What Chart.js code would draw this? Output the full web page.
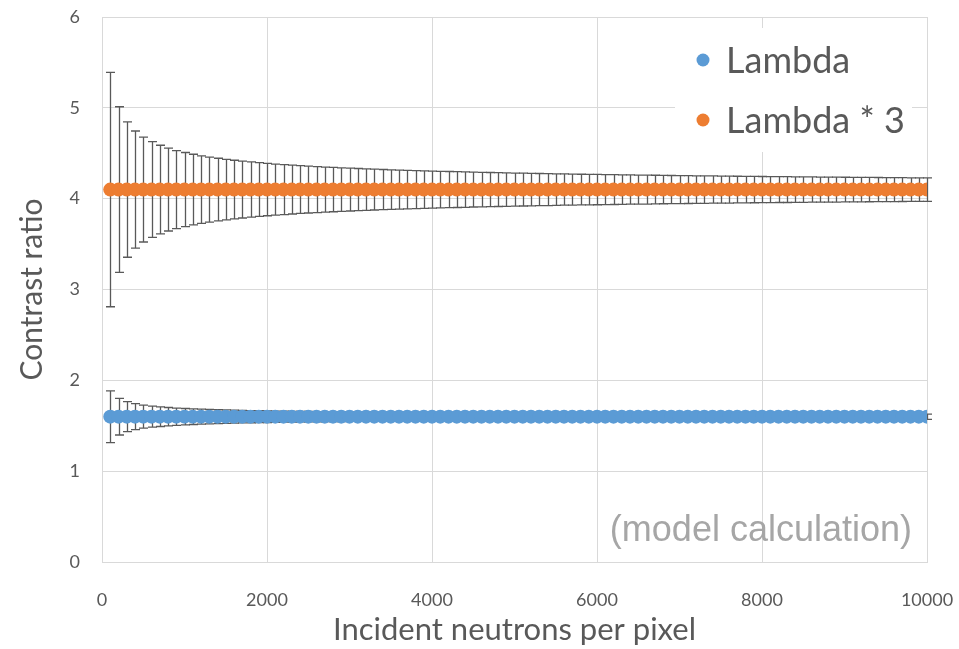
<!DOCTYPE html>
<html>
<head>
<script src="https://cdn.jsdelivr.net/npm/chart.js"></script>
<style>
  body { margin: 0; background: #fff; }
  #wrap { width: 959px; height: 649px; }
</style>
</head>
<body>
<div id="wrap"><canvas id="chart"></canvas></div>
<script>
// incident neutrons per pixel (x values)
var neutrons = [100, 200, 300, 400, 500, 600, 700, 800, 900, 1000,
  1100, 1200, 1300, 1400, 1500, 1600, 1700, 1800, 1900, 2000,
  2100, 2200, 2300, 2400, 2500, 2600, 2700, 2800, 2900, 3000,
  3100, 3200, 3300, 3400, 3500, 3600, 3700, 3800, 3900, 4000,
  4100, 4200, 4300, 4400, 4500, 4600, 4700, 4800, 4900, 5000,
  5100, 5200, 5300, 5400, 5500, 5600, 5700, 5800, 5900, 6000,
  6100, 6200, 6300, 6400, 6500, 6600, 6700, 6800, 6900, 7000,
  7100, 7200, 7300, 7400, 7500, 7600, 7700, 7800, 7900, 8000,
  8100, 8200, 8300, 8400, 8500, 8600, 8700, 8800, 8900, 9000,
  9100, 9200, 9300, 9400, 9500, 9600, 9700, 9800, 9900, 10000];

// contrast ratio of each series (same at every point)
var lambdaRatio = 1.6;
var lambda3Ratio = 4.1;

// +/- error
var lambdaErr = [0.285, 0.202, 0.165, 0.143, 0.127, 0.116, 0.108, 0.101, 0.095, 0.090,
  0.086, 0.082, 0.079, 0.076, 0.074, 0.071, 0.069, 0.067, 0.065, 0.064,
  0.062, 0.061, 0.059, 0.058, 0.057, 0.056, 0.055, 0.054, 0.053, 0.052,
  0.051, 0.050, 0.050, 0.049, 0.048, 0.048, 0.047, 0.046, 0.046, 0.045,
  0.045, 0.044, 0.043, 0.043, 0.042, 0.042, 0.042, 0.041, 0.041, 0.040,
  0.040, 0.040, 0.039, 0.039, 0.038, 0.038, 0.038, 0.037, 0.037, 0.037,
  0.036, 0.036, 0.036, 0.036, 0.035, 0.035, 0.035, 0.035, 0.034, 0.034,
  0.034, 0.034, 0.033, 0.033, 0.033, 0.033, 0.032, 0.032, 0.032, 0.032,
  0.032, 0.031, 0.031, 0.031, 0.031, 0.031, 0.031, 0.030, 0.030, 0.030,
  0.030, 0.030, 0.030, 0.029, 0.029, 0.029, 0.029, 0.029, 0.029, 0.029];

var lambda3Err = [1.290, 0.912, 0.745, 0.645, 0.577, 0.527, 0.488, 0.456, 0.430, 0.408,
  0.389, 0.372, 0.358, 0.345, 0.333, 0.323, 0.313, 0.304, 0.296, 0.288,
  0.281, 0.275, 0.269, 0.263, 0.258, 0.253, 0.248, 0.244, 0.240, 0.236,
  0.232, 0.228, 0.225, 0.221, 0.218, 0.215, 0.212, 0.209, 0.207, 0.204,
  0.201, 0.199, 0.197, 0.195, 0.192, 0.190, 0.188, 0.186, 0.184, 0.182,
  0.181, 0.179, 0.177, 0.176, 0.174, 0.172, 0.171, 0.169, 0.168, 0.167,
  0.165, 0.164, 0.163, 0.161, 0.160, 0.159, 0.158, 0.156, 0.155, 0.154,
  0.153, 0.152, 0.151, 0.150, 0.149, 0.148, 0.147, 0.146, 0.145, 0.144,
  0.143, 0.142, 0.142, 0.141, 0.140, 0.139, 0.138, 0.138, 0.137, 0.136,
  0.135, 0.135, 0.134, 0.133, 0.132, 0.132, 0.131, 0.130, 0.130, 0.129];

var seriesNames = ['Lambda', 'Lambda * 3'];
var xTicks = [0, 2000, 4000, 6000, 8000, 10000];
var yTicks = [0, 1, 2, 3, 4, 5, 6];

var BLUE = '#5B9BD5', ORANGE = '#ED7D31', TEXT = '#595959', GRID = '#D9D9D9';

function points(y) {
  return neutrons.map(function (n) { return { x: n, y: y }; });
}

// error bars under the markers
var errorBars = {
  id: 'errorBars',
  beforeDatasetsDraw: function (chart) {
    var ctx = chart.ctx, xs = chart.scales.x, ys = chart.scales.y;
    ctx.save();
    ctx.strokeStyle = TEXT;
    ctx.lineWidth = 1.3;
    chart.data.datasets.forEach(function (ds) {
      ds.data.forEach(function (p, i) {
        var e = ds.errors[i];
        var px = Math.round(xs.getPixelForValue(p.x)) + 0.5;
        var top = ys.getPixelForValue(p.y + e), bot = ys.getPixelForValue(p.y - e);
        ctx.beginPath();
        ctx.moveTo(px, top); ctx.lineTo(px, bot);
        ctx.moveTo(px - 4.5, top); ctx.lineTo(px + 4.5, top);
        ctx.moveTo(px - 4.5, bot); ctx.lineTo(px + 4.5, bot);
        ctx.stroke();
      });
    });
    ctx.restore();
  }
};

// legend box in the corner and the note
var extras = {
  id: 'extras',
  afterDraw: function (chart) {
    var ctx = chart.ctx;
    ctx.save();
    ctx.fillStyle = '#fff';
    ctx.fillRect(675, 28, 237, 124);
    var cols = [BLUE, ORANGE];
    ctx.font = '36px Lato';
    ctx.textBaseline = 'middle';
    seriesNames.forEach(function (name, i) {
      var y = 60 + i * 60;
      ctx.fillStyle = cols[i];
      ctx.beginPath();
      ctx.arc(703, y, 6.5, 0, Math.PI * 2);
      ctx.fill();
      ctx.fillStyle = TEXT;
      ctx.fillText(name, 726, y + 1);
    });
    ctx.font = '36px "Liberation Sans"';
    ctx.fillStyle = '#A6A6A6';
    ctx.textAlign = 'right';
    ctx.textBaseline = 'alphabetic';
    ctx.fillText('(model calculation)', 912, 541);
    ctx.restore();
  }
};

var chart = new Chart(document.getElementById('chart'), {
  type: 'scatter',
  data: {
    datasets: [{
      label: seriesNames[0],
      data: points(lambdaRatio),
      errors: lambdaErr,
      backgroundColor: BLUE,
      pointRadius: 7,
      pointBorderWidth: 0,
    }, {
      label: seriesNames[1],
      data: points(lambda3Ratio),
      errors: lambda3Err,
      backgroundColor: ORANGE,
      pointRadius: 7,
      pointBorderWidth: 0,
    }],
  },
  options: {
    animation: false,
    responsive: true,
    maintainAspectRatio: false,
    devicePixelRatio: 1,
    layout: { padding: { top: 17, right: 32, left: 0, bottom: 0 } },
    plugins: { legend: { display: false }, tooltip: { enabled: false } },
    scales: {
      x: {
        type: 'linear',
        min: 0,
        max: 10000,
        afterBuildTicks: function (s) { s.ticks = xTicks.map(function (v) { return { value: v }; }); },
        afterFit: function (s) { s.height = 87; },
        // invisible tick marks push the labels down without widening the padding
        grid: { color: GRID, drawTicks: true, tickLength: 27, tickColor: 'rgba(0,0,0,0)' },
        border: { color: GRID },
        ticks: { color: TEXT, font: { family: 'Lato', size: 18 }, padding: 0, maxRotation: 0,
          callback: function (v) { return String(v); } },
        title: { display: true, text: 'Incident neutrons per pixel', color: TEXT,
          font: { family: 'Lato', size: 31 }, padding: { top: 0, bottom: 0 } },
      },
      y: {
        min: 0,
        max: 6,
        afterBuildTicks: function (s) { s.ticks = yTicks.map(function (v) { return { value: v }; }); },
        afterFit: function (s) { s.width = 102; },
        grid: { color: GRID, drawTicks: true, tickLength: 22, tickColor: 'rgba(0,0,0,0)' },
        border: { color: GRID },
        ticks: { color: TEXT, font: { family: 'Lato', size: 18 }, padding: 0 },
        title: { display: true, text: 'Contrast ratio', color: TEXT,
          font: { family: 'Lato', size: 30 }, padding: { top: 14, bottom: 0 } },
      },
    },
  },
  plugins: [errorBars, extras],
});
</script>
</body>
</html>
